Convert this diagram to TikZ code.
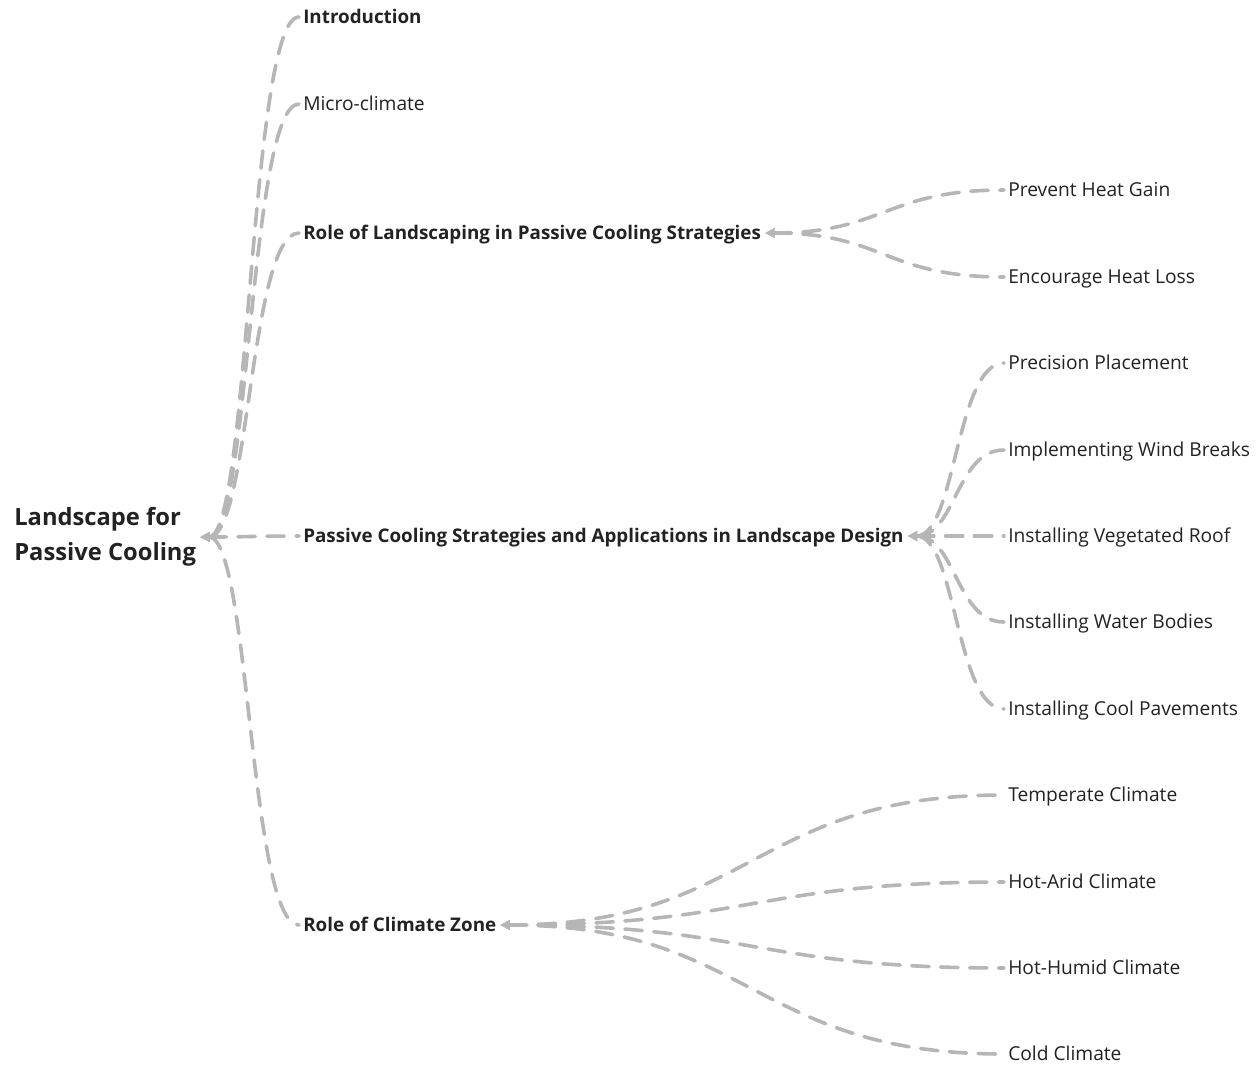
\documentclass[tikz,border=0pt]{standalone}
\usepackage{fontspec}
\setmainfont{Open Sans}
\usetikzlibrary{arrows.meta,calc,positioning}
\definecolor{linkgray}{RGB}{182,182,182}
\definecolor{textdark}{RGB}{34,34,34}
\tikzset{% mind map looks
	topic/.style={anchor=west, inner xsep=3pt, inner ysep=2pt, text=textdark,
		text height=0.95em, text depth=0pt,
		font=\fontsize{14.4}{17}\selectfont},
	topicbold/.style={topic, font=\fontsize{14.1}{17}\selectfont\bfseries},
	rootbox/.style={anchor=west, inner xsep=3pt, align=left, text=textdark,
		font=\fontsize{17.8}{26.3}\selectfont\bfseries},
	link/.style={draw=linkgray, line width=2.7pt, line cap=round,
		dash pattern=on 13pt off 8.7pt,
		{Triangle[length=7pt,width=7pt]}-}
}
% parent -> child, tip at the parent
\newcommand\branch[2]{%
	\draw[link] let \p1=(#1.east), \p2=(#2.west) in
	(\p1) .. controls ({0.5*\x1+0.5*\x2},\y1) and ({0.5*\x1+0.5*\x2},\y2) .. (\p2);}

\begin{document}
\begin{tikzpicture}[x=0.75pt,y=-0.75pt]
	\useasboundingbox (0,0) rectangle (1259,1065);
	
	\node[rootbox] (root) at (10,537) {Landscape for\\Passive Cooling};
	
	\node[topicbold] (intro) at (299,17) {Introduction};
	\node[topic] (micro) at (299,104) {Micro-climate};
	\node[topicbold] (role) at (299,233) {Role of Landscaping in Passive Cooling Strategies};
	\node[topicbold] (pcs) at (299,536) {Passive Cooling Strategies and Applications in Landscape Design};
	\node[topicbold] (zone) at (299,925) {Role of Climate Zone};
	
	\node[topic] (gain) at (1004,190) {Prevent Heat Gain};
	\node[topic] (loss) at (1004,277) {Encourage Heat Loss};
	
	\node[topic] (place) at (1004,363) {Precision Placement};
	\node[topic] (wind) at (1004,450) {Implementing Wind Breaks};
	\node[topic] (roof) at (1004,536) {Installing Vegetated Roof};
	\node[topic] (water) at (1004,622) {Installing Water Bodies};
	\node[topic] (pave) at (1004,709) {Installing Cool Pavements};
	
	\node[topic] (temp) at (1004,795) {Temperate Climate};
	\node[topic] (arid) at (1004,882) {Hot-Arid Climate};
	\node[topic] (humid) at (1004,968) {Hot-Humid Climate};
	\node[topic] (cold) at (1004,1054) {Cold Climate};
	
	\foreach \c in {intro,micro,role,pcs,zone} {\branch{root}{\c}}
	\foreach \c in {gain,loss} {\branch{role}{\c}}
	\foreach \c in {place,wind,roof,water,pave} {\branch{pcs}{\c}}
	\foreach \c in {temp,arid,humid,cold} {\branch{zone}{\c}}
\end{tikzpicture}
\end{document}
